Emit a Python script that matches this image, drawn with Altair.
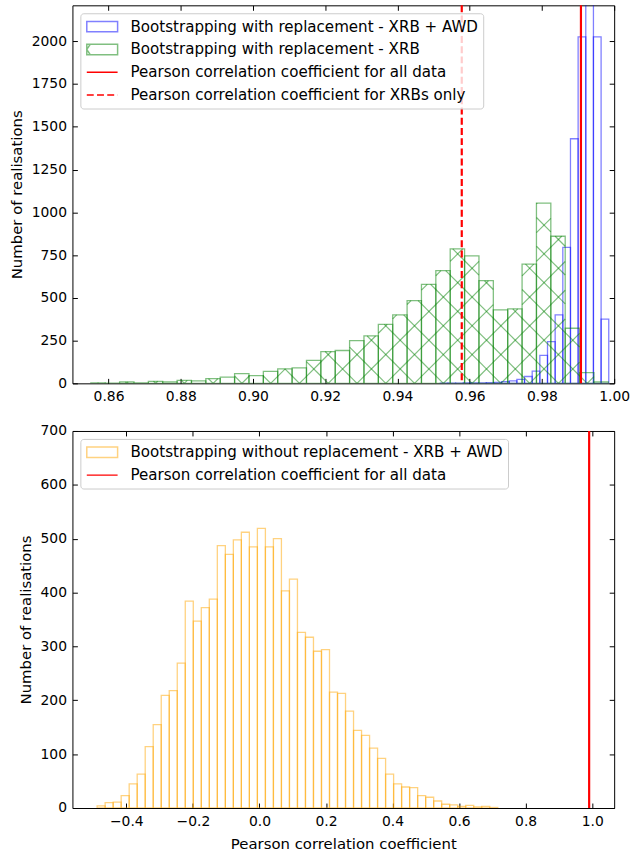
import math
import numpy as np
import pandas as pd
import altair as alt

# ---------------- data ----------------
top_x_ticks = [0.86, 0.88, 0.90, 0.92, 0.94, 0.96, 0.98, 1.00]
top_y_ticks = [0, 250, 500, 750, 1000, 1250, 1500, 1750, 2000]
bot_x_ticks = [-0.4, -0.2, 0.0, 0.2, 0.4, 0.6, 0.8, 1.0]
bot_y_ticks = [0, 100, 200, 300, 400, 500, 600, 700]

# bootstrapping with replacement - XRB + AWD
awd_bin_start = 0.95186
awd_bin_width = 0.00212
awd_counts = [1, 1, 1, 2, 2, 3, 4, 6, 10, 14, 23, 40, 71, 163, 244, 400,
              795, 1430, 2025, 2400, 2025, 375]

# bootstrapping with replacement - XRB
xrb_bin_start = 0.8551
xrb_bin_width = 0.00398
xrb_counts = [3, 1, 8, 2, 12, 8, 17, 15, 27, 36, 57, 45, 70, 85, 91, 134,
              186, 192, 250, 277, 345, 400, 484, 579, 659, 786, 745, 600,
              429, 435, 697, 1054, 860, 322, 63, 8]

# bootstrapping without replacement - XRB + AWD
nor_bin_start = -0.4878
nor_bin_width = 0.02408
nor_counts = [4, 10, 11, 23, 45, 63, 114, 155, 209, 218, 269, 384, 347, 372,
              388, 487, 471, 498, 512, 485, 519, 485, 500, 403, 425, 326, 317,
              291, 294, 215, 213, 180, 144, 135, 111, 92, 63, 45, 39, 38, 23,
              20, 13, 7, 6, 3, 5, 2, 3, 1]

r_all = 0.9908
r_xrb = 0.9578

top_labels = ["Bootstrapping with replacement - XRB + AWD",
              "Bootstrapping with replacement - XRB",
              "Pearson correlation coefficient for all data",
              "Pearson correlation coefficient for XRBs only"]
bot_labels = ["Bootstrapping without replacement - XRB + AWD",
              "Pearson correlation coefficient for all data"]

# ---------------- layout / style ----------------
TOP_W, TOP_H = 546, 381
BOT_W, BOT_H = 546, 380
TOP_XD = [0.85, 1.0]
TOP_YD = [0, 2210]
BOT_XD = [-0.562, 1.066]
BOT_YD = [0, 700]
FONT = "DejaVu Sans"
HATCH = 29.0  # px between parallel hatch lines

BLUE, GREEN, ORANGE, RED = "#0000ff", "#008000", "#ffa500", "#ff0000"
RECT = "M-2.07,-0.7H2.07V0.7H-2.07Z"
RECT_HATCH = "M-2.07,-0.7H2.07V0.7H-2.07Z M-1.6,-0.7L-2.07,0L-1.6,0.7"
LINE = "M-2.07,0H2.07"


def hist_df(start, width, counts):
    n = len(counts)
    x0 = [start + i * width for i in range(n)]
    return pd.DataFrame({"x0": x0, "x1": [v + width for v in x0], "count": counts})


df_awd = hist_df(awd_bin_start, awd_bin_width, awd_counts)
df_xrb = hist_df(xrb_bin_start, xrb_bin_width, xrb_counts)
df_nor = hist_df(nor_bin_start, nor_bin_width, nor_counts)

# hatch ('x') segments for the XRB histogram, built from its bins
kx = TOP_W / (TOP_XD[1] - TOP_XD[0])
ky = TOP_H / (TOP_YD[1] - TOP_YD[0])
phase = (xrb_bin_start - TOP_XD[0] + xrb_bin_width / 2) * kx
segs = []
for _, row in df_xrb.iterrows():
    u0 = (row.x0 - TOP_XD[0]) * kx
    u1 = (row.x1 - TOP_XD[0]) * kx
    vt = min(row["count"], TOP_YD[1]) * ky
    for k in range(math.floor((u0 - vt - phase) / HATCH) - 1, math.ceil((u1 - phase) / HATCH) + 2):
        c = k * HATCH + phase
        us, ue = max(u0, c), min(u1, c + vt)
        if ue - us > 0.2:
            segs.append((us, us - c, ue, ue - c))
    for k in range(math.floor((u0 - phase) / HATCH) - 1, math.ceil((u1 + vt - phase) / HATCH) + 2):
        c = k * HATCH + phase
        us, ue = max(u0, c - vt), min(u1, c)
        if ue - us > 0.2:
            segs.append((us, c - us, ue, c - ue))
df_hatch = pd.DataFrame(
    [(a / kx + TOP_XD[0], b / ky, e / kx + TOP_XD[0], f / ky) for a, b, e, f in segs],
    columns=["hx0", "hy0", "hx1", "hy1"])

xs_top = alt.Scale(domain=TOP_XD, nice=False, zero=False)
ys_top = alt.Scale(domain=TOP_YD, nice=False)
xs_bot = alt.Scale(domain=BOT_XD, nice=False, zero=False)
ys_bot = alt.Scale(domain=BOT_YD, nice=False)


def label_x(values, fmt, title=None):
    kw = dict(orient="bottom", values=values, format=fmt, ticks=False, domain=False,
              labelPadding=6.5, grid=False, labelFlush=False)
    if title:
        kw["title"] = title
        kw["titlePadding"] = 8
    else:
        kw["title"] = None
    return alt.Axis(**kw)


def label_y(values, title):
    return alt.Axis(orient="left", values=values, format="d", ticks=False, domain=False,
                    labelPadding=6, grid=False, title=title, titlePadding=7,
                    labelFlush=False)


def tick_axis(orient, values):
    return alt.Axis(orient=orient, values=values, offset=-5, labels=False, domain=False,
                    ticks=True, tickSize=5, grid=False, title=None)


def tick_layer(df, xs, ys, xv, yv, xo, yo):
    return alt.Chart(df).transform_filter("false").mark_point(opacity=0).encode(
        x=alt.X("x0:Q", scale=xs, axis=tick_axis(xo, xv)),
        y=alt.Y("count:Q", scale=ys, axis=tick_axis(yo, yv)),
    )


def hist_layer(df, color, xs, ys, xaxis=None, yaxis=None):
    return alt.Chart(df).mark_rect(fill=color, fillOpacity=0, stroke=color, strokeOpacity=0.5,
                                   strokeWidth=1.3, clip=True).encode(
        x=alt.X("x0:Q", scale=xs, axis=xaxis),
        x2="x1",
        y=alt.Y("count:Q", scale=ys, axis=yaxis),
        y2=alt.datum(0),
    )


def legend_layer(labels, field, colors, shapes, dashes):
    df = pd.DataFrame({field: labels})
    return alt.Chart(df).transform_filter("false").mark_point(filled=False, opacity=1).encode(
        color=alt.Color(f"{field}:N", scale=alt.Scale(domain=labels, range=colors),
                        legend=alt.Legend(title=None)),
        shape=alt.Shape(f"{field}:N", scale=alt.Scale(domain=labels, range=shapes),
                        legend=alt.Legend(title=None)),
        strokeDash=alt.StrokeDash(f"{field}:N", scale=alt.Scale(domain=labels, range=dashes),
                                  legend=alt.Legend(title=None)),
    )


# ---------------- top panel ----------------
top = alt.layer(
    hist_layer(df_awd, BLUE, xs_top, ys_top,
               label_x(top_x_ticks, ".2f"), label_y(top_y_ticks, "Number of realisations")),
    hist_layer(df_xrb, GREEN, xs_top, ys_top),
    alt.Chart(df_hatch).mark_rule(color=GREEN, strokeOpacity=0.5, strokeWidth=1.2, clip=True).encode(
        x=alt.X("hx0:Q", scale=xs_top, axis=None), x2="hx1",
        y=alt.Y("hy0:Q", scale=ys_top, axis=None), y2="hy1"),
    alt.Chart(pd.DataFrame({"r": [r_all]})).mark_rule(color=RED, strokeWidth=2.2).encode(
        x=alt.X("r:Q", scale=xs_top, axis=None)),
    alt.Chart(pd.DataFrame({"r": [r_xrb]})).mark_rule(color=RED, strokeWidth=2.2,
                                                      strokeDash=[7, 3.3]).encode(
        x=alt.X("r:Q", scale=xs_top, axis=None)),
    tick_layer(df_awd, xs_top, ys_top, top_x_ticks, top_y_ticks, "bottom", "left"),
    tick_layer(df_awd, xs_top, ys_top, top_x_ticks, top_y_ticks, "top", "right"),
    legend_layer(top_labels, "label_top",
                 ["#8080ff", "#80bf80", RED, RED],
                 [RECT, RECT_HATCH, LINE, LINE],
                 [[1, 0], [1, 0], [1, 0], [7, 3.3]]),
).resolve_axis(x="independent", y="independent").properties(width=TOP_W, height=TOP_H)

# ---------------- bottom panel ----------------
bottom = alt.layer(
    hist_layer(df_nor, ORANGE, xs_bot, ys_bot,
               label_x(bot_x_ticks, ".1f", "Pearson correlation coefficient"),
               label_y(bot_y_ticks, "Number of realisations")),
    alt.Chart(pd.DataFrame({"r": [r_all]})).mark_rule(color=RED, strokeWidth=2.2).encode(
        x=alt.X("r:Q", scale=xs_bot, axis=None)),
    tick_layer(df_nor, xs_bot, ys_bot, bot_x_ticks, bot_y_ticks, "bottom", "left"),
    tick_layer(df_nor, xs_bot, ys_bot, bot_x_ticks, bot_y_ticks, "top", "right"),
    legend_layer(bot_labels, "label_bot",
                 ["#ffd280", RED],
                 [RECT, LINE],
                 [[1, 0], [1, 0]]),
).resolve_axis(x="independent", y="independent").properties(width=BOT_W, height=BOT_H)

chart = alt.vconcat(top, bottom, spacing=19).resolve_scale(
    x="independent", y="independent", color="independent", shape="independent",
    strokeDash="independent").resolve_legend(
    color="independent", shape="independent", strokeDash="independent"
).properties(
    padding={"left": 8, "top": 0, "right": 5, "bottom": 0}, background="white"
).configure(font=FONT).configure_view(stroke="black", strokeWidth=1).configure_axis(
    labelFont=FONT, labelFontSize=14, labelColor="black", titleFont=FONT, titleFontSize=15,
    titleFontWeight="normal", titleColor="black", tickColor="black", tickWidth=1,
).configure_legend(
    orient="top-left", offset=8, padding=5, fillColor="rgba(255,255,255,0.8)",
    strokeColor="#cccccc", cornerRadius=3, labelFont=FONT, labelFontSize=15.2,
    labelColor="black", symbolSize=225, symbolStrokeWidth=1.5, symbolOffset=8.5,
    labelOffset=20, rowPadding=6, labelLimit=600,
)

chart.save("out.html", embed_options={"renderer": "svg", "actions": False})
